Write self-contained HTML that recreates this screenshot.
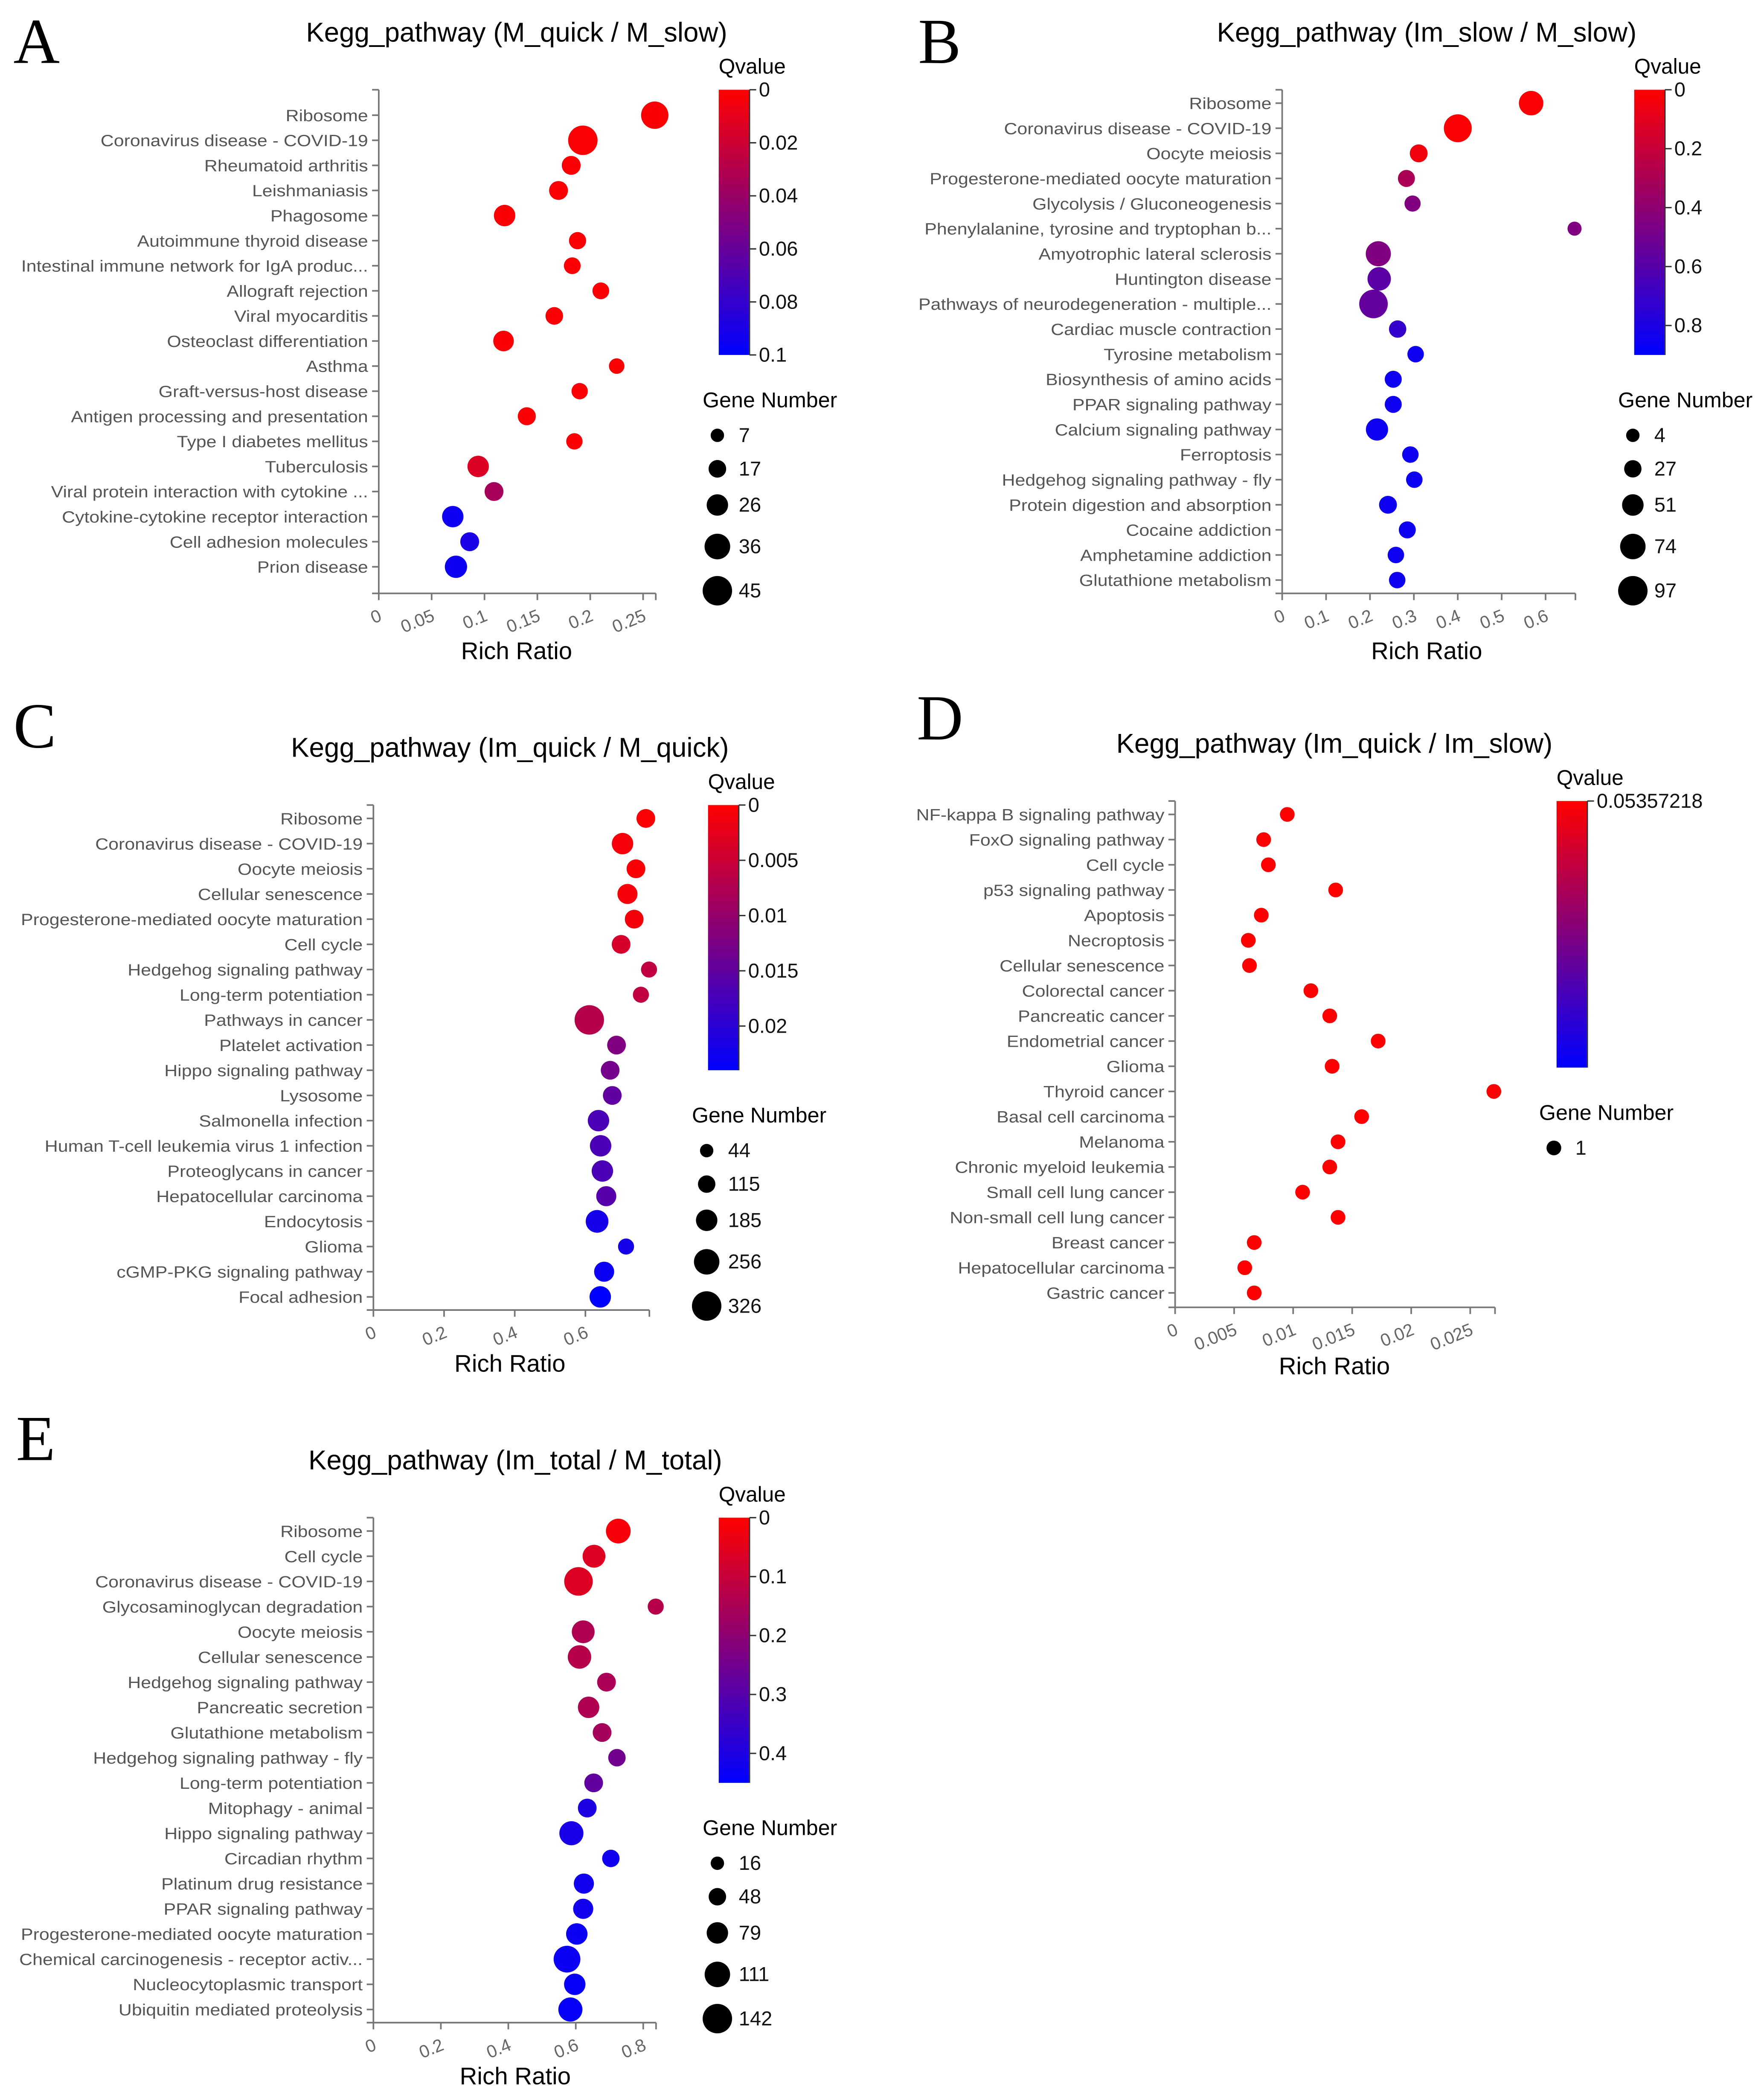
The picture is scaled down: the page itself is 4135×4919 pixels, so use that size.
<!DOCTYPE html>
<html><head><meta charset="utf-8">
<style>
html,body{margin:0;padding:0;background:#fff;}
svg{display:block;}
text{font-family:"Liberation Sans",Arial,sans-serif;}
</style></head>
<body>
<svg id="fig" xmlns="http://www.w3.org/2000/svg" width="4135" height="4919" viewBox="0 0 1318 1567" preserveAspectRatio="none">
<defs>
<linearGradient id="qgrad" x1="0" y1="0" x2="0" y2="1">
<stop offset="0" stop-color="#ff0000"/><stop offset="0.5" stop-color="#800080"/><stop offset="1" stop-color="#0000ff"/>
</linearGradient>
</defs>
</svg>
<script>
// ---------- Panel A data ----------
const catsA = ["Ribosome","Coronavirus disease - COVID-19","Rheumatoid arthritis","Leishmaniasis","Phagosome","Autoimmune thyroid disease","Intestinal immune network for IgA produc...","Allograft rejection","Viral myocarditis","Osteoclast differentiation","Asthma","Graft-versus-host disease","Antigen processing and presentation","Type I diabetes mellitus","Tuberculosis","Viral protein interaction with cytokine ...","Cytokine-cytokine receptor interaction","Cell adhesion molecules","Prion disease"];
const ratioA = [0.261,0.193,0.182,0.170,0.119,0.188,0.183,0.210,0.166,0.118,0.225,0.190,0.140,0.185,0.094,0.109,0.070,0.086,0.073];
const qA = [0.002,0.001,0.002,0.002,0.002,0.002,0.002,0.002,0.002,0.002,0.002,0.002,0.002,0.002,0.014,0.035,0.095,0.09,0.095];
const genesA = [40,45,20,20,26,16,15,15,17,24,12,14,18,14,26,20,26,20,28];
const xTicksA = [0,0.05,0.1,0.15,0.2,0.25];
const qTicksA = [0,0.02,0.04,0.06,0.08,0.1];
const gLegA = [7,17,26,36,45];

// ---------- Panel B data ----------
const catsB = ["Ribosome","Coronavirus disease - COVID-19","Oocyte meiosis","Progesterone-mediated oocyte maturation","Glycolysis / Gluconeogenesis","Phenylalanine, tyrosine and tryptophan b...","Amyotrophic lateral sclerosis","Huntington disease","Pathways of neurodegeneration - multiple...","Cardiac muscle contraction","Tyrosine metabolism","Biosynthesis of amino acids","PPAR signaling pathway","Calcium signaling pathway","Ferroptosis","Hedgehog signaling pathway - fly","Protein digestion and absorption","Cocaine addiction","Amphetamine addiction","Glutathione metabolism"];
const ratioB = [0.567,0.400,0.311,0.283,0.297,0.666,0.219,0.221,0.208,0.263,0.304,0.253,0.253,0.216,0.292,0.301,0.241,0.285,0.259,0.262];
const qB = [0.01,0.01,0.05,0.3,0.45,0.45,0.45,0.58,0.55,0.72,0.85,0.85,0.85,0.85,0.85,0.85,0.85,0.85,0.85,0.85];
const genesB = [68,88,30,25,20,8,72,62,92,27,22,25,25,55,22,22,30,25,22,22];
const xTicksB = [0,0.1,0.2,0.3,0.4,0.5,0.6];
const qTicksB = [0,0.2,0.4,0.6,0.8];
const gLegB = [4,27,51,74,97];

// ---------- Panel C data ----------
const catsC = ["Ribosome","Coronavirus disease - COVID-19","Oocyte meiosis","Cellular senescence","Progesterone-mediated oocyte maturation","Cell cycle","Hedgehog signaling pathway","Long-term potentiation","Pathways in cancer","Platelet activation","Hippo signaling pathway","Lysosome","Salmonella infection","Human T-cell leukemia virus 1 infection","Proteoglycans in cancer","Hepatocellular carcinoma","Endocytosis","Glioma","cGMP-PKG signaling pathway","Focal adhesion"];
const ratioC = [0.771,0.705,0.743,0.719,0.738,0.701,0.780,0.757,0.611,0.688,0.670,0.676,0.637,0.643,0.648,0.659,0.633,0.715,0.653,0.642];
const qC = [0.0003,0.0008,0.0005,0.0008,0.001,0.004,0.006,0.006,0.007,0.012,0.013,0.015,0.017,0.017,0.017,0.016,0.022,0.022,0.023,0.024];
const genesC = [138,185,138,161,138,138,91,91,326,138,138,138,185,185,185,161,208,91,161,185];
const xTicksC = [0,0.2,0.4,0.6];
const qTicksC = [0,0.005,0.01,0.015,0.02];
const gLegC = [44,115,185,256,326];

// ---------- Panel D data ----------
const catsD = ["NF-kappa B signaling pathway","FoxO signaling pathway","Cell cycle","p53 signaling pathway","Apoptosis","Necroptosis","Cellular senescence","Colorectal cancer","Pancreatic cancer","Endometrial cancer","Glioma","Thyroid cancer","Basal cell carcinoma","Melanoma","Chronic myeloid leukemia","Small cell lung cancer","Non-small cell lung cancer","Breast cancer","Hepatocellular carcinoma","Gastric cancer"];
const ratioD = [0.0095,0.0075,0.0079,0.0136,0.0073,0.0062,0.0063,0.0115,0.0131,0.0172,0.0133,0.0270,0.0158,0.0138,0.0131,0.0108,0.0138,0.0067,0.0059,0.0067];
const qD = [0,0,0,0,0,0,0,0,0,0,0,0,0,0,0,0,0,0,0,0];
const genesD = [1,1,1,1,1,1,1,1,1,1,1,1,1,1,1,1,1,1,1,1];
const xTicksD = [0,0.005,0.01,0.015,0.02,0.025];
const qTicksD = ["0.05357218"];
const gLegD = [1];

// ---------- Panel E data ----------
const catsE = ["Ribosome","Cell cycle","Coronavirus disease - COVID-19","Glycosaminoglycan degradation","Oocyte meiosis","Cellular senescence","Hedgehog signaling pathway","Pancreatic secretion","Glutathione metabolism","Hedgehog signaling pathway - fly","Long-term potentiation","Mitophagy - animal","Hippo signaling pathway","Circadian rhythm","Platinum drug resistance","PPAR signaling pathway","Progesterone-mediated oocyte maturation","Chemical carcinogenesis - receptor activ...","Nucleocytoplasmic transport","Ubiquitin mediated proteolysis"];
const ratioE = [0.726,0.654,0.608,0.837,0.622,0.611,0.691,0.638,0.678,0.722,0.653,0.634,0.587,0.704,0.624,0.622,0.603,0.574,0.597,0.584];
const qE = [0.015,0.06,0.06,0.13,0.14,0.13,0.15,0.14,0.16,0.25,0.28,0.4,0.41,0.42,0.42,0.42,0.43,0.43,0.44,0.44];
const genesE = [105,90,135,37,90,95,58,79,58,48,58,58,100,48,69,69,79,121,79,100];
const xTicksE = [0,0.2,0.4,0.6,0.8];
const qTicksE = [0,0.1,0.2,0.3,0.4];
const gLegE = [16,48,79,111,142];

const NS = "http://www.w3.org/2000/svg";
const svg = document.getElementById('fig');
function mk(tag, attrs, parent, txt){
  const e = document.createElementNS(NS, tag);
  for (const k in attrs) e.setAttribute(k, attrs[k]);
  if (txt !== undefined) e.textContent = txt;
  (parent||svg).appendChild(e);
  return e;
}
function qColor(q, qmax){
  let f = qmax>0 ? Math.max(0, Math.min(1, q/qmax)) : 0;
  let r, b;
  if (f < 0.5){ r = 255 - (255-128)*(f/0.5); b = 128*(f/0.5); }
  else { r = 128*(1-(f-0.5)/0.5); b = 128 + 127*((f-0.5)/0.5); }
  return `rgb(${Math.round(r)},0,${Math.round(b)})`;
}

function panel(L, cats, ratio, qs, genes, xTicks, qTicks, gLeg){
  const g = mk('g', {});
  
  
  const lt = mk('text', {x:L.letterX, y:L.letterY, style:'font-family:"Liberation Serif",serif;font-size:48px', fill:'#000'}, g, L.id.toUpperCase());
  
  
  const tt = mk('text', {x:L.titleX, y:L.titleY, 'font-size':20.3, 'text-anchor':'middle', fill:'#000'}, g, L.title);
  
  

  const xScale = v => L.x0 + v * L.pxPerUnit;
  const yOf = i => L.row0 + i * L.rowStep;
  const gmin = gLeg[0], gmax = gLeg[gLeg.length-1];
  const rOf = gv => gmax===gmin ? 5.5 : L.rmin + (gv-gmin)/(gmax-gmin)*(L.rmax-L.rmin);

  const ya = mk('line', {x1:L.x0, y1:L.axTop, x2:L.x0, y2:L.axBot, stroke:'#777', 'stroke-width':1.2}, g);
  
  
  mk('line', {x1:L.x0-5, y1:L.axTop, x2:L.x0, y2:L.axTop, stroke:'#777', 'stroke-width':1.2}, g);
  const xEnd = xScale(L.xmax);
  const xa = mk('line', {x1:L.x0-5, y1:L.axBot, x2:xEnd, y2:L.axBot, stroke:'#777', 'stroke-width':1.2}, g);
  
  
  mk('line', {x1:xEnd, y1:L.axBot, x2:xEnd, y2:L.axBot+5, stroke:'#777', 'stroke-width':1.2}, g);

  cats.forEach((c,i)=>{
    const y = yOf(i);
    mk('line', {x1:L.x0-5, y1:y, x2:L.x0, y2:y, stroke:'#777', 'stroke-width':1.2}, g);
    const t = mk('text', {x:0, y:0, 'font-size':12, 'text-anchor':'end', fill:'#555', transform:`translate(${L.x0-8} ${y+4.4}) scale(1.14 1)`}, g, c);
    
    
  });
  xTicks.forEach(v=>{
    const x = xScale(v);
    mk('line', {x1:x, y1:L.axBot, x2:x, y2:L.axBot+5, stroke:'#777', 'stroke-width':1.2}, g);
    const tx = x+3, ty = L.axBot+20;
    const t = mk('text', {x:tx, y:ty, 'font-size':13.2, 'text-anchor':'end', fill:'#666', transform:`rotate(-22 ${tx} ${ty})`}, g, String(v));
    
    
  });
  const xt = mk('text', {x:L.titleX, y:L.xTitleY, 'font-size':18, 'text-anchor':'middle', fill:'#000'}, g, 'Rich Ratio');
  
  

  cats.forEach((c,i)=>{
    const p = mk('circle', {cx:xScale(ratio[i]), cy:yOf(i), r:rOf(genes[i]), fill:qColor(qs[i], L.qmax)}, g);
    
    
  });

  const qt = mk('text', {x:L.cbX, y:L.cbTop-12, 'font-size':15.8, fill:'#000'}, g, 'Qvalue');
  
  
  const cb = mk('rect', {x:L.cbX, y:L.cbTop, width:23, height:L.cbH, fill:'url(#qgrad)'}, g);
  
  
  mk('line', {x1:L.cbX+23, y1:L.cbTop, x2:L.cbX+23, y2:L.cbTop+L.cbH, stroke:'#333', 'stroke-width':1}, g);
  qTicks.forEach(v=>{
    const y = L.single ? L.cbTop : L.cbTop + (v/L.qmax)*L.cbH;
    mk('line', {x1:L.cbX+23, y1:y, x2:L.cbX+28, y2:y, stroke:'#333', 'stroke-width':1}, g);
    const t = mk('text', {x:L.cbX+30, y:y+5, 'font-size':15, fill:'#111'}, g, String(v));
    
    
  });

  const gt = mk('text', {x:L.glX-11, y:L.glTitleY, 'font-size':16, fill:'#000'}, g, 'Gene Number');
  
  
  gLeg.forEach((v,k)=>{
    const y = L.glY[k];
    const c = mk('circle', {cx:L.glX, cy:y, r:rOf(v), fill:'#000'}, g);
    
    
    const t = mk('text', {x:L.glX+16, y:y+5, 'font-size':15, fill:'#111'}, g, String(v));
    
    
  });
}

panel({id:'a', letterX:10, letterY:47, title:'Kegg_pathway (M_quick / M_slow)', titleX:386, titleY:31, xTitleY:492,
  x0:283, pxPerUnit:790, xmax:0.262, axTop:67, axBot:443, row0:86, rowStep:18.73, rmin:5, rmax:11,
  qmax:0.1, cbX:537, cbTop:67, cbH:198, glX:536, glTitleY:304, glY:[325,350,377,408,441]},
  catsA, ratioA, qA, genesA, xTicksA, qTicksA, gLegA);

panel({id:'b', letterX:686, letterY:47, title:'Kegg_pathway (Im_slow / M_slow)', titleX:1066, titleY:31, xTitleY:492,
  x0:958, pxPerUnit:328, xmax:0.668, axTop:67, axBot:443, row0:77, rowStep:18.74, rmin:5, rmax:11,
  qmax:0.9, cbX:1221, cbTop:67, cbH:198, glX:1220, glTitleY:304, glY:[325,350,377,408,441]},
  catsB, ratioB, qB, genesB, xTicksB, qTicksB, gLegB);

panel({id:'c', letterX:10, letterY:558, title:'Kegg_pathway (Im_quick / M_quick)', titleX:381, titleY:565, xTitleY:1024,
  x0:279, pxPerUnit:264, xmax:0.781, axTop:601, axBot:978, row0:611, rowStep:18.8, rmin:5, rmax:11,
  qmax:0.024, cbX:529, cbTop:601, cbH:198, glX:528, glTitleY:838, glY:[859,884,911,942,975]},
  catsC, ratioC, qC, genesC, xTicksC, qTicksC, gLegC);

panel({id:'d', letterX:685, letterY:552, title:'Kegg_pathway (Im_quick / Im_slow)', titleX:997, titleY:562, xTitleY:1026,
  x0:878, pxPerUnit:8820, xmax:0.0271, axTop:598, axBot:976, row0:608, rowStep:18.8, rmin:5.5, rmax:5.5,
  qmax:0.0536, single:true, cbX:1163, cbTop:598, cbH:199, glX:1161, glTitleY:836, glY:[857]},
  catsD, ratioD, qD, genesD, xTicksD, qTicksD, gLegD);

panel({id:'e', letterX:12, letterY:1090, title:'Kegg_pathway (Im_total / M_total)', titleX:385, titleY:1097, xTitleY:1556,
  x0:279, pxPerUnit:252, xmax:0.838, axTop:1133, axBot:1510, row0:1143, rowStep:18.8, rmin:5, rmax:11,
  qmax:0.45, cbX:537, cbTop:1133, cbH:198, glX:536, glTitleY:1370, glY:[1391,1416,1443,1474,1507]},
  catsE, ratioE, qE, genesE, xTicksE, qTicksE, gLegE);
</script>
</body></html>
